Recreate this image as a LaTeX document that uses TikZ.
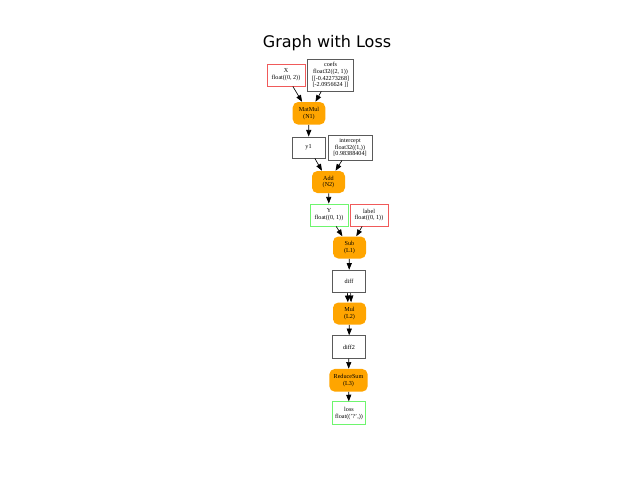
\documentclass[tikz,border=0pt]{standalone}
\usepackage{fontspec}
\setmainfont{Liberation Serif}
\newfontfamily\titlefont{DejaVu Sans}
\usetikzlibrary{arrows.meta}
\definecolor{boxred}{RGB}{240,90,90}
\definecolor{boxgreen}{RGB}{110,245,110}
\definecolor{opfill}{RGB}{255,165,0}
\definecolor{edgegray}{RGB}{90,90,90}
\tikzset{
  base/.style={inner sep=0pt, align=center, font=\fontsize{4.6}{5.1}\selectfont},
  tensorbox/.style={base, draw=edgegray, line width=0.6pt},
  redbox/.style={base, draw=boxred, line width=0.6pt},
  greenbox/.style={base, draw=boxgreen, line width=0.6pt},
  opnode/.style={base, fill=opfill, rounded corners=4pt},
  arr/.style={-{Triangle[length=5pt,width=3.8pt]}, line width=0.5pt, black}
}
\begin{document}
\begin{tikzpicture}[x=0.75pt,y=-0.75pt]
\useasboundingbox (0,0) rectangle (640,480);
\node (title) at (327,43) {\titlefont\fontsize{12}{14}\selectfont Graph with Loss};
\node[redbox, minimum width=28.5pt, minimum height=16.5pt] (X) at (286,75) {X\\float((0, 2))};
\node[tensorbox, minimum width=35pt, minimum height=24pt] (coefs) at (330.5,75) {coefs\\float32((2, 1))\\{[}[-0.42273268]\\{[}-2.0956624 ]]};
\node[opnode, minimum width=24.4pt, minimum height=16.9pt] (MatMul) at (309,113.3) {MatMul\\(N1)};
\node[tensorbox, minimum width=24.75pt, minimum height=15.75pt] (y1) at (308.5,147.5) {y1};
\node[tensorbox, minimum width=33pt, minimum height=18.75pt] (intercept) at (350,147.5) {intercept\\float32((1,))\\{[}0.98388404]};
\node[opnode, minimum width=24.75pt, minimum height=16.5pt] (Add) at (328.5,182) {Add\\(N2)};
\node[greenbox, minimum width=28.5pt, minimum height=16.5pt] (Y) at (329,215) {Y\\float((0, 1))};
\node[redbox, minimum width=28.5pt, minimum height=16.5pt] (label) at (369,215) {label\\float((0, 1))};
\node[opnode, minimum width=24.75pt, minimum height=16.5pt] (Sub) at (349.5,247.5) {Sub\\(L1)};
\node[tensorbox, minimum width=25pt, minimum height=17pt] (diff) at (349,281.5) {diff};
\node[opnode, minimum width=24.75pt, minimum height=16.5pt] (Mul) at (349.5,313.5) {Mul\\(L2)};
\node[tensorbox, minimum width=25pt, minimum height=17pt] (diff2) at (349,347) {diff2};
\node[opnode, minimum width=28.7pt, minimum height=17pt] (ReduceSum) at (348.5,380.3) {ReduceSum\\(L3)};
\node[greenbox, minimum width=25pt, minimum height=17.25pt] (loss) at (349,413.3) {loss\\float(('?',))};

\draw[arr] (X) -- (MatMul);
\draw[arr] (coefs) -- (MatMul);
\draw[arr] (MatMul) -- (y1);
\draw[arr] (y1) -- (Add);
\draw[arr] (intercept) -- (Add);
\draw[arr] (Add) -- (Y);
\draw[arr] (Y) -- (Sub);
\draw[arr] (label) -- (Sub);
\draw[arr] (Sub) -- (diff);
\draw[arr] ([xshift=-1.2pt]diff.south) -- ([xshift=-1.2pt]Mul.north);
\draw[arr] ([xshift=1.2pt]diff.south) -- ([xshift=1.2pt]Mul.north);
\draw[arr] (Mul) -- (diff2);
\draw[arr] (diff2) -- (ReduceSum);
\draw[arr] (ReduceSum) -- (loss);
\end{tikzpicture}
\end{document}
